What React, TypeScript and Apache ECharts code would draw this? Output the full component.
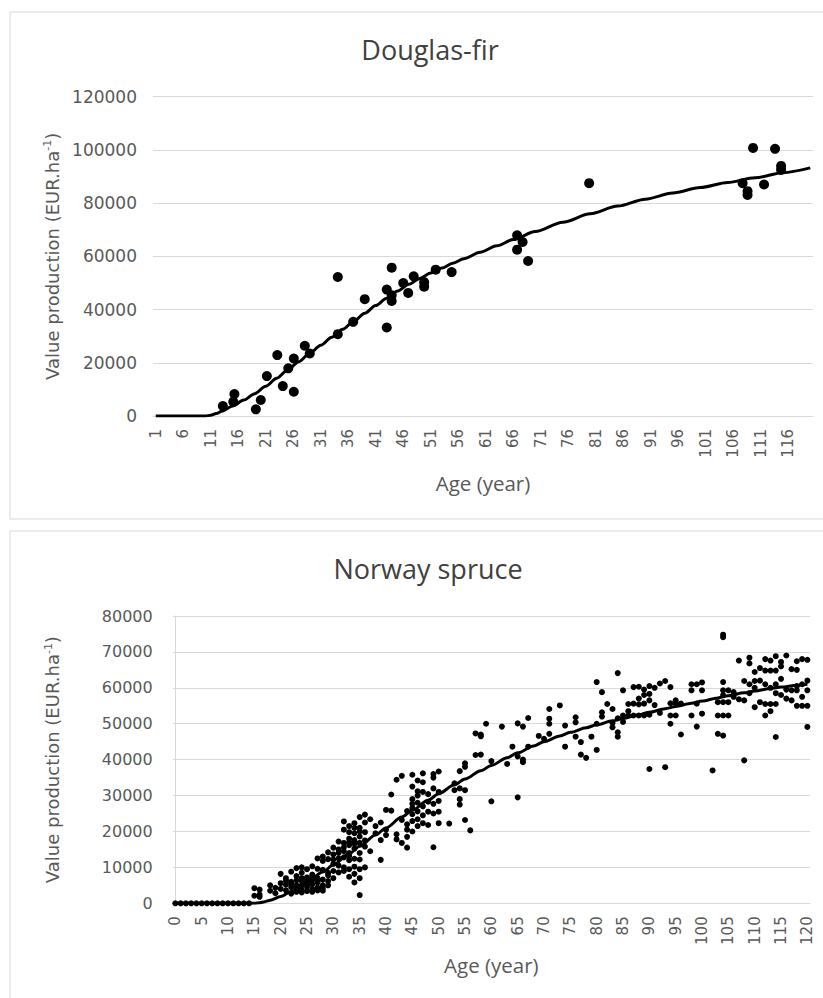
import React, { useEffect, useRef } from "react";
import * as echarts from "echarts";

// ---------- Douglas-fir ----------
const firTitle = "Douglas-fir";
const firObserved: [number, number][] = [
  [13.2, 3750], [15.3, 8250], [15.1, 5400], [19.2, 2500], [20.1, 6000],
  [21.2, 15000], [23.1, 22900], [24.1, 11250], [25.1, 17900], [26.1, 9100],
  [26.1, 21600], [28.1, 26400], [29.0, 23500], [34.1, 52250], [34.1, 30750],
  [36.9, 35400], [39.0, 43900], [43.0, 33250], [43.0, 47500], [43.9, 55750],
  [43.9, 43250], [43.9, 45400], [46.0, 50000], [46.9, 46250], [47.9, 52500],
  [49.8, 48600], [49.8, 50300], [51.9, 55000], [54.8, 54100], [66.7, 67900],
  [67.7, 65400], [66.7, 62500], [68.7, 58250], [79.8, 87500], [107.7, 87500],
  [108.6, 83100], [108.6, 84500], [109.6, 100750], [111.6, 87000], [113.6, 100400],
  [114.7, 94000], [114.7, 92500],
];
const firCurveAges = [1, 6, 10, 11, 12, 13, 15, 17, 19, 21, 23, 25, 27, 29, 31, 33, 35, 37, 39, 41, 43, 45, 47, 49, 51, 53, 55, 57, 60, 63, 66, 70, 75, 80, 85, 90, 95, 100, 105, 110, 115, 120];
const firCurveValues = [0, 0, 0, 300, 900, 1800, 3800, 6000, 8400, 11200, 14200, 17300, 20400, 23500, 26600, 29600, 32600, 35600, 38600, 41500, 44300, 47000, 49500, 51700, 53700, 55600, 57400, 59100, 61550, 63950, 66300, 69300, 72800, 76000, 78900, 81500, 83800, 85850, 87750, 89550, 91450, 93250];
const firXLabels = [1, 6, 11, 16, 21, 26, 31, 36, 41, 46, 51, 56, 61, 66, 71, 76, 81, 86, 91, 96, 101, 106, 111, 116];

// ---------- Norway spruce ----------
const spruceTitle = "Norway spruce";
const spruceObserved: [number, number[]][] = [
  [15, [4200, 2100]], [16, [3800, 2400, 1800]], [18, [5000, 3500]], [19, [4300, 2800]],
  [20, [8200, 5600, 4000]], [21, [7000, 5200, 3600, 6300]], [22, [8800, 6000, 4500, 2700, 5500]],
  [23, [9800, 7600, 5000, 3200, 6400, 4200]], [24, [10000, 8500, 6200, 5000, 3800, 3000, 7000]],
  [25, [9500, 7200, 5800, 4600, 3400, 6600, 5200]], [26, [10300, 8000, 6500, 5300, 4000, 3200, 7300]],
  [27, [9600, 7000, 5800, 4400, 3600, 6200, 12500]], [28, [13000, 9300, 6600, 5000, 4200, 3500, 11800]],
  [29, [14200, 12300, 8500, 6200, 5000, 7800]], [30, [13600, 11000, 9000, 7000, 15500, 12200]],
  [31, [15000, 12500, 10500, 8600, 14000, 17200]], [32, [16800, 14500, 12800, 10000, 9000, 20500, 22800, 15600]],
  [33, [21500, 18000, 16200, 14000, 12000, 9500, 7400, 19800, 17000, 13200]],
  [34, [22300, 19500, 17600, 15200, 12400, 5800, 8200, 21000, 16600, 10200]],
  [35, [24000, 21000, 18600, 16800, 14000, 9500, 7000, 2300, 20000, 12200]],
  [36, [24700, 22500, 19800, 17500, 10000, 15800]], [37, [23400, 14500]], [38, [21500, 19500]],
  [39, [22500, 17600, 12100]], [40, [19000, 26000, 20500]], [41, [30300, 25800]],
  [42, [34400, 17800, 19200]], [43, [35500, 23200, 16800]], [44, [25700, 22000, 20500, 18500, 15500]],
  [45, [35800, 32500, 27700, 24800, 22900, 20000, 26500, 29000]],
  [46, [34200, 30000, 28000, 25600, 23400, 21500, 31200]], [47, [36200, 33700, 31000, 27000, 24500, 22300]],
  [48, [30400, 28300, 25500, 21800]], [49, [36000, 32000, 27700, 25000, 15600, 35000]],
  [50, [36700, 31000, 28500, 25500, 22300]], [52, [22200]], [53, [33400, 31500]],
  [54, [36800, 32000, 29000, 27500]], [55, [38000, 39000, 31500, 23200]], [56, [20300]],
  [57, [47300, 41300]], [58, [47000, 46500, 41400]], [59, [50000]], [60, [39600, 28400]],
  [62, [49200]], [63, [38800]], [64, [43600]], [65, [29500, 50100, 40900]], [66, [49200, 39300, 40000]],
  [67, [51600, 43600]], [69, [46600]], [70, [45800]], [71, [54100, 51400, 50000, 47200]], [73, [55100]],
  [74, [49500, 43600]], [76, [51800, 50400, 46400]], [77, [44900, 41400]], [78, [40500]], [79, [46400]],
  [80, [42700, 61600, 50000]], [81, [58800, 53200, 52000]], [82, [55500]], [83, [54100, 50200, 49000]],
  [84, [64100, 47600, 46400, 51500]], [85, [59300, 52300, 50500]], [86, [52300, 55500, 53500]],
  [87, [60200, 52300, 55600]], [88, [60300, 52300, 57000, 55400]], [89, [59500, 52300, 55600, 58000]],
  [90, [58300, 52500, 37400, 56500, 60500]], [91, [60000, 55200]], [92, [61200, 53000]], [93, [61900, 37900]],
  [94, [55700, 52300, 50000, 60200]], [95, [55700, 56500, 52300]], [96, [47000, 55600]],
  [98, [61000, 52300, 59300]], [99, [61000, 55600, 49200]], [100, [52800, 59300, 61500]], [102, [37000]],
  [103, [56000, 52300, 47200]], [104, [74100, 74800, 61600, 56000, 52300, 46700, 59300, 58000]],
  [105, [56000, 52300, 59300]], [106, [58800, 57500]], [107, [67600, 56800]], [108, [39800, 56500, 61900]],
  [109, [68400, 66800, 58500, 61000]], [110, [64400, 61900, 54600, 60000]], [111, [65500, 62000, 56000]],
  [112, [68000, 64800, 61000, 55500, 52300]], [113, [67600, 64800, 60000, 55500, 53500]],
  [114, [68800, 64800, 61000, 55500, 46300, 58500]], [115, [67200, 62500, 58000, 66000]],
  [116, [69000, 59500, 57000]], [117, [65200, 59300, 56500]], [118, [67400, 65000, 59300, 55000, 60500]],
  [119, [68000, 61000, 55000, 57500]], [120, [67800, 59300, 55000, 49100, 62000]],
];
const spruceZeroAges = [0, 1, 2, 3, 4, 5, 6, 7, 8, 9, 10, 11, 12, 13, 14];
const spruceCurveAges = [0, 5, 10, 15, 16, 17, 18, 20, 22, 25, 28, 30, 33, 35, 38, 40, 43, 45, 48, 50, 53, 55, 58, 60, 63, 65, 68, 70, 73, 75, 78, 80, 83, 85, 88, 90, 93, 95, 98, 100, 103, 105, 108, 110, 113, 115, 118, 120];
const spruceCurveValues = [0, 0, 0, 0, 150, 450, 850, 1900, 3300, 5900, 8700, 10700, 13800, 15900, 19000, 21000, 24000, 25900, 28700, 30500, 33000, 34600, 36900, 38400, 40500, 41900, 43800, 45000, 46600, 47600, 48900, 49700, 50800, 51500, 52500, 53200, 54200, 54800, 55700, 56300, 57200, 57800, 58600, 59100, 59800, 60200, 60700, 61000];
const spruceXLabels = [0, 5, 10, 15, 20, 25, 30, 35, 40, 45, 50, 55, 60, 65, 70, 75, 80, 85, 90, 95, 100, 105, 110, 115, 120];

const yAxisTitle = "Value production (EUR.ha";
const xAxisTitle = "Age (year)";

const TICK_FONT = "DejaVu Sans";
const TITLE_FONT = "Open Sans";
const GRID_COLOR = "#d9d9d9";
const LABEL_COLOR = "#595959";

export default function App() {
  const ref = useRef<HTMLDivElement>(null);
  useEffect(() => {
    if (!ref.current) return;
    const chart = echarts.init(ref.current, null, { renderer: "svg" });

    const firCurve = firCurveAges.map((a, i) => [a, firCurveValues[i]]);
    const spruceCurve = spruceCurveAges.map((a, i) => [a, spruceCurveValues[i]]);
    const sprucePts: number[][] = [];
    spruceObserved.forEach(([age, vals]) => vals.forEach((v) => sprucePts.push([age, v])));
    spruceZeroAges.forEach((a) => sprucePts.push([a, 0]));

    const yName = (gap: number) => ({
      name: `{a|${yAxisTitle}}{s|-1}{a|)}`,
      nameLocation: "middle",
      nameGap: gap,
      nameTextStyle: {
        rich: {
          a: { fontFamily: TICK_FONT, fontSize: 18, color: LABEL_COLOR },
          s: { fontFamily: TICK_FONT, fontSize: 11, color: LABEL_COLOR, verticalAlign: "top", padding: [0, 0, 9, 0] },
        },
      },
    });

    const plain = (v: number) => String(v);

    chart.setOption({
      animation: false,
      backgroundColor: "#ffffff",
      title: [
        {
          text: firTitle,
          left: 425,
          top: 31,
          textAlign: "center",
          textStyle: { fontFamily: TITLE_FONT, fontSize: 27, fontWeight: "normal", color: "#404040" },
        },
        {
          text: spruceTitle,
          left: 423,
          top: 550,
          textAlign: "center",
          textStyle: { fontFamily: TITLE_FONT, fontSize: 27, fontWeight: "normal", color: "#404040" },
        },
      ],
      graphic: [
        { type: "rect", shape: { x: 10, y: 12, width: 840, height: 507 }, style: { fill: "none", stroke: GRID_COLOR, lineWidth: 1 }, silent: true },
        { type: "rect", shape: { x: 10, y: 531, width: 840, height: 480 }, style: { fill: "none", stroke: GRID_COLOR, lineWidth: 1 }, silent: true },
      ],
      grid: [
        { left: 153, top: 96.7, width: 660, height: 319.3 },
        { left: 172.7, top: 616, width: 637.3, height: 287.3 },
      ],
      xAxis: [
        {
          gridIndex: 0,
          type: "value",
          min: 0.5,
          max: 120.5,
          splitLine: { show: false },
          axisTick: { show: false },
          axisLine: { show: true, lineStyle: { color: GRID_COLOR, width: 1 } },
          axisLabel: {
            customValues: firXLabels,
            formatter: plain,
            rotate: 90,
            margin: 13,
            fontFamily: TICK_FONT,
            fontSize: 15,
            color: LABEL_COLOR,
          },
          name: xAxisTitle,
          nameLocation: "middle",
          nameGap: 56,
          nameTextStyle: { fontFamily: TITLE_FONT, fontSize: 20.5, color: LABEL_COLOR },
        },
        {
          gridIndex: 1,
          type: "value",
          min: -0.5,
          max: 120.5,
          splitLine: { show: false },
          axisTick: { show: false },
          axisLine: { show: true, lineStyle: { color: GRID_COLOR, width: 1 } },
          axisLabel: {
            customValues: spruceXLabels,
            formatter: plain,
            rotate: 90,
            margin: 13,
            fontFamily: TICK_FONT,
            fontSize: 15,
            color: LABEL_COLOR,
          },
          name: xAxisTitle,
          nameLocation: "middle",
          nameGap: 51,
          nameTextStyle: { fontFamily: TITLE_FONT, fontSize: 20.5, color: LABEL_COLOR },
        },
      ],
      yAxis: [
        {
          gridIndex: 0,
          type: "value",
          min: 0,
          max: 120000,
          interval: 20000,
          axisLine: { show: false },
          axisTick: { show: false },
          splitLine: { lineStyle: { color: GRID_COLOR, width: 1 } },
          axisLabel: { margin: 16, formatter: plain, fontFamily: TICK_FONT, fontSize: 17, color: LABEL_COLOR },
          ...yName(90),
        },
        {
          gridIndex: 1,
          type: "value",
          min: 0,
          max: 80000,
          interval: 10000,
          axisLine: { show: true, lineStyle: { color: GRID_COLOR, width: 1 } },
          axisTick: { show: false },
          splitLine: { lineStyle: { color: GRID_COLOR, width: 1 } },
          axisLabel: { margin: 20, formatter: plain, fontFamily: TICK_FONT, fontSize: 16, color: LABEL_COLOR },
          ...yName(110),
        },
      ],
      series: [
        {
          type: "scatter",
          xAxisIndex: 0,
          yAxisIndex: 0,
          data: firObserved,
          symbol: "circle",
          symbolSize: 10,
          itemStyle: { color: "#000000", opacity: 1 },
          z: 3,
        },
        {
          type: "line",
          xAxisIndex: 0,
          yAxisIndex: 0,
          data: firCurve,
          showSymbol: false,
          smooth: 0.3,
          smoothMonotone: "x",
          lineStyle: { color: "#000000", width: 3 },
          z: 4,
        },
        {
          type: "scatter",
          xAxisIndex: 1,
          yAxisIndex: 1,
          data: sprucePts,
          symbol: "circle",
          symbolSize: 6,
          itemStyle: { color: "#000000", opacity: 1 },
          z: 3,
        },
        {
          type: "line",
          xAxisIndex: 1,
          yAxisIndex: 1,
          data: spruceCurve,
          showSymbol: false,
          smooth: 0.3,
          smoothMonotone: "x",
          lineStyle: { color: "#000000", width: 3 },
          z: 4,
        },
      ],
    });
    return () => chart.dispose();
  }, []);

  return (
    <div
      ref={ref}
      style={{ position: "absolute", left: 0, top: 0, width: 823, height: 998, background: "#fff" }}
    />
  );
}
